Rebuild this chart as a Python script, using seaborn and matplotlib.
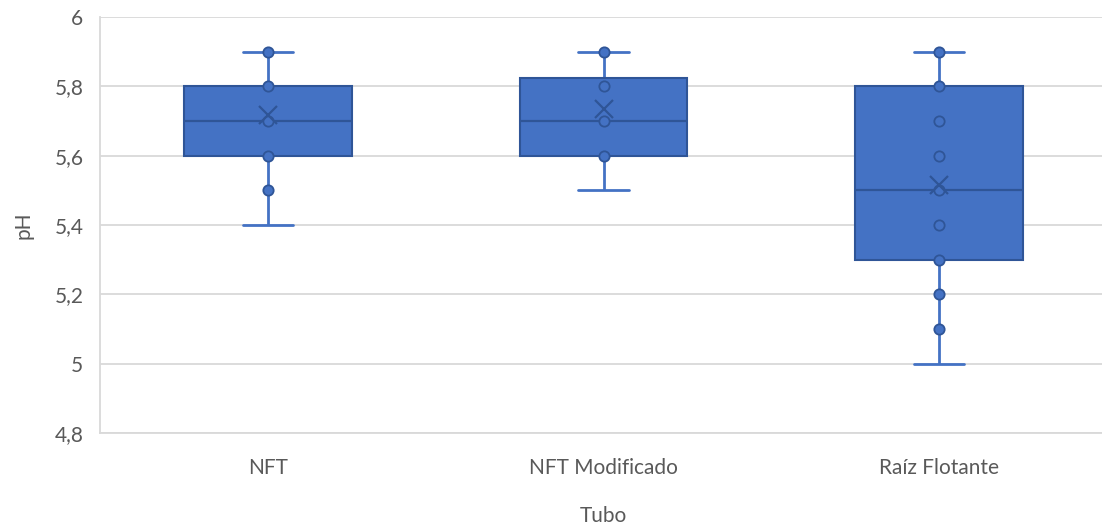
import numpy as np
import pandas as pd
import matplotlib
matplotlib.use("Agg")
import matplotlib.pyplot as plt
import seaborn as sns

# pH readings per tube system
nft = [5.4, 5.5, 5.6, 5.6, 5.6, 5.6, 5.7, 5.7, 5.7, 5.7,
       5.8, 5.8, 5.8, 5.8, 5.9, 5.9, 5.9, 5.9]
nft_mod = [5.5, 5.6, 5.6, 5.6, 5.6, 5.6, 5.7, 5.7, 5.7, 5.7,
           5.7, 5.8, 5.8, 5.8, 5.8, 5.9, 5.9, 5.9, 5.9, 5.9]
raiz = [5.0, 5.1, 5.2, 5.3, 5.4, 5.5, 5.5, 5.6, 5.7, 5.8, 5.8, 5.9, 5.9]

categories = ["NFT", "NFT Modificado", "Raíz Flotante"]
y_ticks = [4.8, 5.0, 5.2, 5.4, 5.6, 5.8, 6.0]
y_tick_labels = ["4,8", "5", "5,2", "5,4", "5,6", "5,8", "6"]

df = pd.DataFrame({
    "Tubo": [categories[0]] * len(nft) + [categories[1]] * len(nft_mod)
            + [categories[2]] * len(raiz),
    "pH": nft + nft_mod + raiz,
})

sns.set_theme(style="white")
plt.rcParams["font.family"] = ["Lato", "DejaVu Sans"]

BLUE = "#4472C4"
DARK = "#2F5597"
GRID = "#D9D9D9"
TEXT = "#595959"
FS = 15

fig = plt.figure(figsize=(11.02, 5.26), dpi=100)
ax = fig.add_axes([100 / 1102, 93 / 526, 1007 / 1102, 416 / 526])

for y in y_ticks:
    ax.axhline(y, color=GRID, lw=1.3, zorder=0)

sns.boxplot(
    data=df, x="Tubo", y="pH", order=categories, ax=ax,
    width=0.5, whis=(0, 100), showfliers=False,
    showmeans=True,
    boxprops=dict(facecolor=BLUE, edgecolor=DARK, linewidth=1.5, zorder=2),
    medianprops=dict(color=DARK, linewidth=1.6, zorder=3),
    whiskerprops=dict(color=BLUE, linewidth=2, zorder=1),
    capprops=dict(color=BLUE, linewidth=2, zorder=1),
    capwidths=0.15,
    meanprops=dict(marker="x", markeredgecolor=DARK, markersize=13,
                   markeredgewidth=1.6, zorder=5),
)

# Inner points: distinct readings above each group's minimum
for i, vals in enumerate([nft, nft_mod, raiz]):
    pts = sorted(set(v for v in vals if v > min(vals)))
    ax.scatter([i] * len(pts), pts, s=55, color=BLUE, edgecolor=DARK,
               linewidth=1.3, zorder=4)

ax.set_xlim(-0.5, 2.5)
ax.set_ylim(4.8, 6.0)
ax.set_yticks(y_ticks)
ax.set_yticklabels(y_tick_labels)

for side in ["top", "right"]:
    ax.spines[side].set_visible(False)
ax.spines["left"].set_color(GRID)
ax.spines["left"].set_linewidth(1.3)
ax.spines["bottom"].set_color(GRID)
ax.spines["bottom"].set_linewidth(1.3)

ax.tick_params(axis="y", length=0, pad=12, labelsize=FS, labelcolor=TEXT)
ax.tick_params(axis="x", length=0, pad=18, labelsize=FS, labelcolor=TEXT)
ax.set_xlabel("Tubo", fontsize=FS, color=TEXT, labelpad=20)
ax.set_ylabel("pH", fontsize=FS, color=TEXT, labelpad=15)

fig.savefig("out.png", dpi=100)
